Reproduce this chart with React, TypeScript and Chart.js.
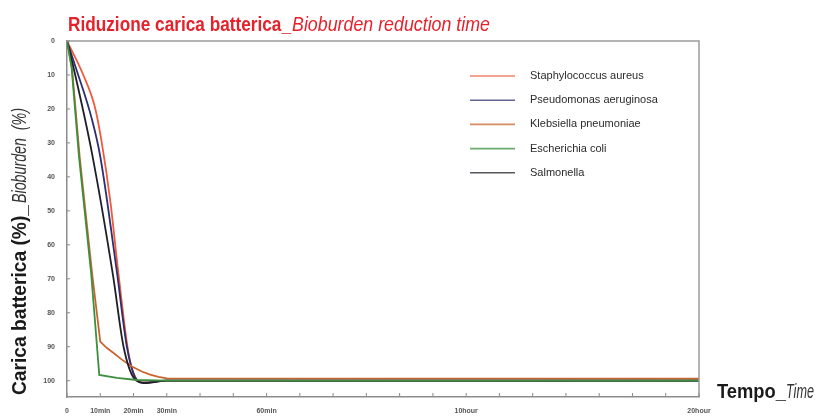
import React, { useEffect, useRef } from 'react';
import { Chart, registerables } from 'chart.js';
Chart.register(...registerables);

// ---- data ----
const seriesLabels = [
  'Staphylococcus aureus',
  'Pseudomonas aeruginosa',
  'Klebsiella pneumoniae',
  'Escherichia coli',
  'Salmonella',
];
const xTickLabels = [
  '0', '10min', '20min', '30min', '', '', '60min', '', '', '', '', '', '10hour',
  '', '', '', '', '', '', '20hour',
];
const yTickValues = [0, 10, 20, 30, 40, 50, 60, 70, 80, 90, 100];

const staphX = [0, 0.49, 0.84, 1.04, 1.3, 1.55, 1.85, 2.05, 2.3, 3, 19];
const staphY = [0, 10, 19.5, 29.6, 47, 68.8, 92, 99, 100.5, 100, 100];

const pseudoX = [0, 0.27, 0.74, 1.0, 1.5, 1.8, 2.05, 2.3, 3, 19];
const pseudoY = [0, 8, 22.7, 34, 68, 90, 99, 100.6, 100, 100];

const klebX = [0, 0.15, 0.38, 0.75, 1.0, 1.2, 1.39, 1.65, 1.95, 2.25, 2.5, 2.75, 3, 19];
const klebY = [0, 8, 34, 68, 88.5, 90.4, 91.8, 93.8, 95.8, 97.3, 98.2, 98.9, 99.3, 99.4];

const ecoliX = [0, 0.14, 0.36, 0.73, 0.97, 1.5, 2.1, 3, 19];
const ecoliY = [0, 8, 34, 68.8, 98.3, 99.2, 99.8, 100, 100];

const salmX = [0, 0.2, 0.75, 1.38, 1.7, 2.05, 2.35, 3, 19];
const salmY = [0, 8, 33, 68.8, 90, 99.7, 100.7, 100, 100];

const seriesColors = ['#ee5b3b', '#2e2e70', '#c8652e', '#3d8f3d', '#1e1e28'];
const seriesOrder = [4, 3, 2, 0, 1];
const seriesSmooth = [true, true, false, false, true];

const toPoints = (xs: number[], ys: number[]) => xs.map((x, i) => ({ x, y: ys[i] }));

const FONT = "'Liberation Sans', Arial, sans-serif";

function drawFitted(
  ctx: CanvasRenderingContext2D,
  text: string,
  x: number,
  y: number,
  width: number,
  font: string,
  color: string
) {
  ctx.save();
  ctx.font = font;
  ctx.fillStyle = color;
  ctx.textBaseline = 'alphabetic';
  ctx.textAlign = 'left';
  const w = ctx.measureText(text).width;
  ctx.translate(x, y);
  ctx.scale(width / w, 1);
  ctx.fillText(text, 0, 0);
  ctx.restore();
}

const decorPlugin = {
  id: 'decor',
  afterDatasetsDraw(chart: any) {
    const { ctx, chartArea } = chart;
    const xs = chart.scales.x;
    const ys = chart.scales.y;
    ctx.save();
    // frame top & right
    ctx.strokeStyle = '#9c9c9c';
    ctx.lineWidth = 1.5;
    ctx.beginPath();
    ctx.moveTo(chartArea.left, chartArea.top);
    ctx.lineTo(chartArea.right, chartArea.top);
    ctx.lineTo(chartArea.right, chartArea.bottom);
    ctx.stroke();
    // inner tick marks
    ctx.strokeStyle = '#8a8a8a';
    ctx.lineWidth = 1;
    ys.ticks.forEach((t: any) => {
      const py = ys.getPixelForValue(t.value);
      ctx.beginPath();
      ctx.moveTo(chartArea.left, py);
      ctx.lineTo(chartArea.left + 3, py);
      ctx.stroke();
    });
    xs.ticks.forEach((t: any) => {
      const px = xs.getPixelForValue(t.value);
      ctx.beginPath();
      ctx.moveTo(px, chartArea.bottom);
      ctx.lineTo(px, chartArea.bottom - 4);
      ctx.stroke();
    });
    ctx.restore();
  },
  afterDraw(chart: any) {
    const { ctx, chartArea } = chart;
    // title
    drawFitted(ctx, 'Riduzione carica batterica_', 68, 31, 223, `bold 21px ${FONT}`, '#e5222c');
    drawFitted(ctx, 'Bioburden reduction time', 292, 31, 198, `italic 21px ${FONT}`, '#e5222c');
    // y axis title
    ctx.save();
    ctx.translate(26, 395);
    ctx.rotate(-Math.PI / 2);
    drawFitted(ctx, 'Carica batterica (%)_', 0, 0, 190, `bold 21px ${FONT}`, '#1a1a1a');
    drawFitted(ctx, 'Bioburden  (%)', 192, 0, 95, `italic 21px ${FONT}`, '#333333');
    ctx.restore();
    // x axis title
    drawFitted(ctx, 'Tempo_', 717, 398, 69, `bold 21px ${FONT}`, '#1a1a1a');
    drawFitted(ctx, 'Time', 786, 398, 28, `italic 21px ${FONT}`, '#333333');
    // legend
    const lx = chartArea.left + 403;
    const ly = 76;
    chart.data.datasets.forEach((ds: any, i: number) => {
      const y = ly + i * 24.2;
      ctx.save();
      ctx.strokeStyle = ds.borderColor;
      ctx.globalAlpha = 0.75;
      ctx.lineWidth = 1.6;
      ctx.beginPath();
      ctx.moveTo(lx, y);
      ctx.lineTo(lx + 45, y);
      ctx.stroke();
      ctx.restore();
      ctx.save();
      ctx.font = `11px ${FONT}`;
      ctx.fillStyle = '#2b2b2b';
      ctx.textBaseline = 'middle';
      ctx.translate(lx + 60, y);
      ctx.fillText(ds.label, 0, 0);
      ctx.restore();
    });
  },
};

export default function App() {
  const ref = useRef<HTMLCanvasElement>(null);
  useEffect(() => {
    document.body.style.margin = '0';
    const allX = [staphX, pseudoX, klebX, ecoliX, salmX];
    const allY = [staphY, pseudoY, klebY, ecoliY, salmY];
    const chart = new Chart(ref.current!, {
      type: 'line',
      data: {
        datasets: seriesLabels.map((label, i) => ({
          label,
          data: toPoints(allX[i], allY[i]),
          borderColor: seriesColors[i],
          backgroundColor: seriesColors[i],
          borderWidth: 1.8,
          pointRadius: 0,
          order: seriesOrder[i],
          tension: 0,
          cubicInterpolationMode: seriesSmooth[i] ? ('monotone' as const) : ('default' as const),
          fill: false,
        })),
      },
      options: {
        animation: false,
        responsive: false,
        layout: { padding: { left: 0, top: 41, right: 118, bottom: 0 } },
        plugins: {
          legend: { display: false },
          tooltip: { enabled: false },
          title: { display: false },
        },
        scales: {
          x: {
            type: 'linear',
            min: 0,
            max: 19,
            grid: { display: false, drawTicks: false },
            border: { display: true, color: '#8c8c8c', width: 1.5 },
            afterBuildTicks: (s: any) => {
              s.ticks = xTickLabels.map((_, i) => ({ value: i }));
            },
            afterFit: (s: any) => {
              s.height = 19;
            },
            ticks: {
              autoSkip: false,
              maxRotation: 0,
              padding: 10,
              color: '#555',
              font: { size: 7, family: FONT, weight: 'bold' },
              callback: (v: any) => xTickLabels[Math.round(Number(v))] ?? '',
            },
          },
          y: {
            type: 'linear',
            reverse: true,
            min: 0,
            max: 104.8,
            grid: { display: false, drawTicks: false },
            border: { display: true, color: '#8c8c8c', width: 1.5 },
            afterBuildTicks: (s: any) => {
              s.ticks = yTickValues.map((v) => ({ value: v }));
            },
            afterFit: (s: any) => {
              s.width = 67;
            },
            ticks: {
              padding: 12,
              color: '#555',
              font: { size: 7, family: FONT, weight: 'bold' },
              callback: (v: any) => String(v),
            },
          },
        },
      },
      plugins: [decorPlugin],
    });
    return () => chart.destroy();
  }, []);
  return (
    <div style={{ width: 817, height: 416, background: '#fff' }}>
      <canvas ref={ref} width={817} height={416} />
    </div>
  );
}
